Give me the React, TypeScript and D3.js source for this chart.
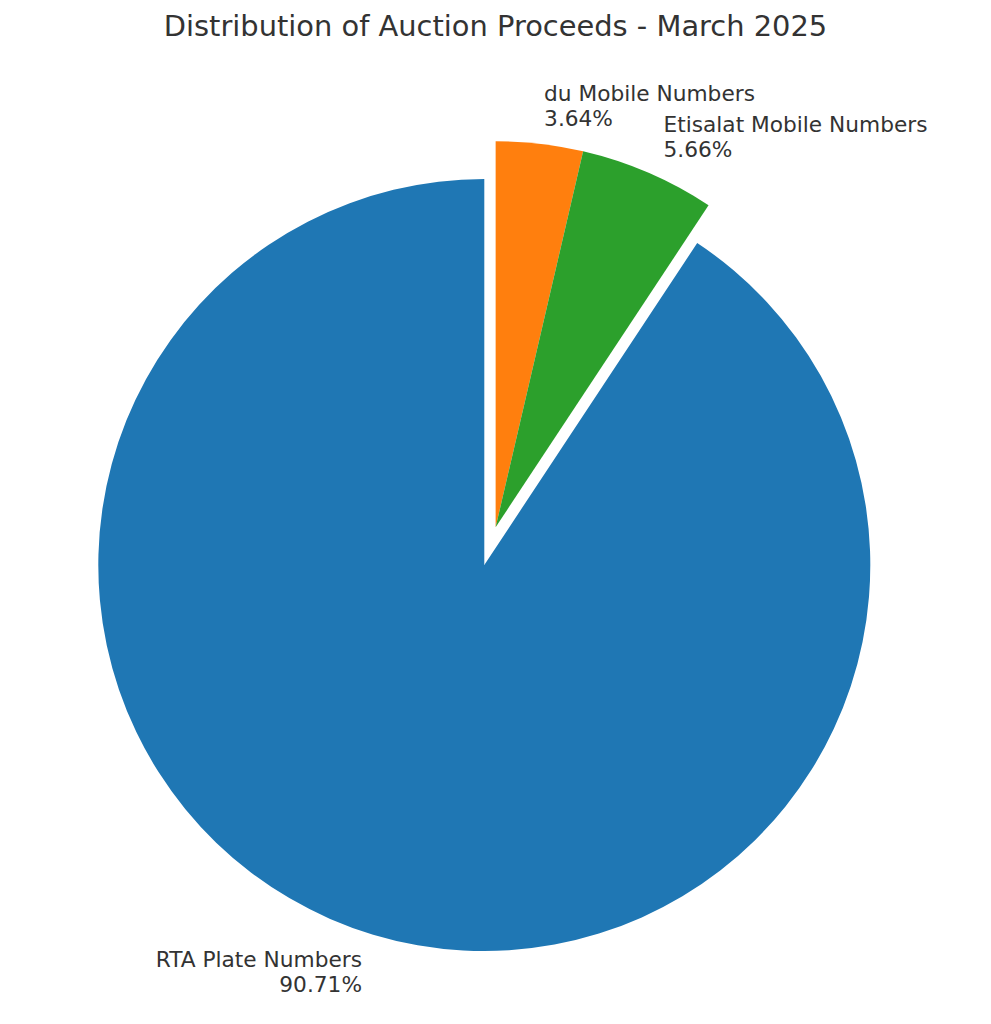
import React from "react";
import { pie, arc } from "d3";

// Slices in clockwise order starting at 12 o'clock.
const categories = ["du Mobile Numbers", "Etisalat Mobile Numbers", "RTA Plate Numbers"];
const shares = [3.64, 5.66, 90.71];
const colors = ["#ff7f0e", "#2ca02c", "#1f77b4"];
const exploded = [true, true, false];

const W = 991;
const H = 1024;
const CX = 484.3;
const CY = 565;
const R = 386;
const EXPLODE = 0.102; // fraction of radius, applied to the mobile-number group
const LABEL_DIST = 1.1;
const FONT = "DejaVu Sans, sans-serif";
const INK = "#333333";
const LABEL_SIZE = 21.7;
const LINE_GAP = 25;

type Datum = { name: string; share: number; color: string; exploded: boolean };

const data: Datum[] = categories.map((name, i) => ({
  name,
  share: shares[i],
  color: colors[i],
  exploded: exploded[i],
}));

export default function App() {
  const arcs = pie<Datum>()
    .value((d) => d.share)
    .sort(null)
    .startAngle(0)
    .endAngle(2 * Math.PI)(data);

  const path = arc<any>().innerRadius(0).outerRadius(R);

  // The exploded slices move together along the mid angle of the whole group.
  const group = arcs.filter((a) => a.data.exploded);
  const gMid = (group[0].startAngle + group[group.length - 1].endAngle) / 2;
  const dx = Math.sin(gMid) * EXPLODE * R;
  const dy = -Math.cos(gMid) * EXPLODE * R;

  return (
    <div style={{ position: "absolute", left: 0, top: 0 }}>
      <svg width={W} height={H} viewBox={`0 0 ${W} ${H}`} style={{ display: "block", background: "#fff" }}>
        <text
          x={495.5}
          y={35.5}
          textAnchor="middle"
          fontFamily={FONT}
          fontSize={28.9}
          fill={INK}
        >
          Distribution of Auction Proceeds - March 2025
        </text>

        {arcs.map((a) => {
          const ox = a.data.exploded ? dx : 0;
          const oy = a.data.exploded ? dy : 0;
          return (
            <path
              key={a.data.name}
              d={path(a) ?? ""}
              transform={`translate(${CX + ox},${CY + oy})`}
              fill={a.data.color}
            />
          );
        })}

        {arcs.map((a) => {
          const ox = a.data.exploded ? dx : 0;
          const oy = a.data.exploded ? dy : 0;
          const mid = (a.startAngle + a.endAngle) / 2;
          const lx = CX + ox + Math.sin(mid) * R * LABEL_DIST;
          const ly = CY + oy - Math.cos(mid) * R * LABEL_DIST;
          const anchor = Math.sin(mid) >= 0 ? "start" : "end";
          const base = ly - LINE_GAP / 2 + LABEL_SIZE * 0.35;
          return (
            <text
              key={a.data.name + "-label"}
              textAnchor={anchor}
              fontFamily={FONT}
              fontSize={LABEL_SIZE}
              fill={INK}
            >
              <tspan x={lx} y={base}>
                {a.data.name}
              </tspan>
              <tspan x={lx} y={base + LINE_GAP}>
                {`${a.data.share.toFixed(2)}%`}
              </tspan>
            </text>
          );
        })}
      </svg>
    </div>
  );
}
